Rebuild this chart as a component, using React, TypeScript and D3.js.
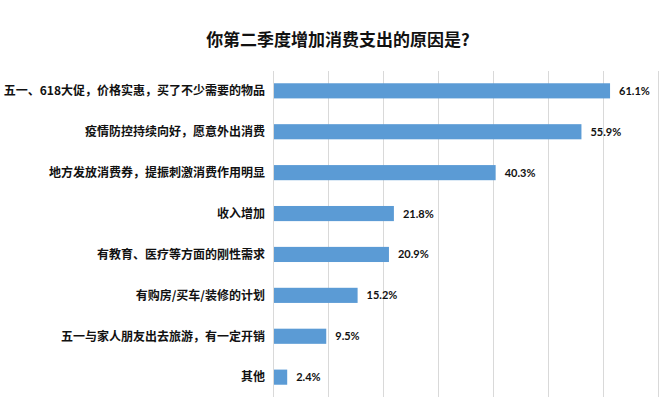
import React from "react";
import { select, scaleLinear, scaleBand, range } from "d3";

const categories = [
  "五一、618大促，价格实惠，买了不少需要的物品",
  "疫情防控持续向好，愿意外出消费",
  "地方发放消费券，提振刺激消费作用明显",
  "收入增加",
  "有教育、医疗等方面的刚性需求",
  "有购房/买车/装修的计划",
  "五一与家人朋友出去旅游，有一定开销",
  "其他",
];
const values = [61.1, 55.9, 40.3, 21.8, 20.9, 15.2, 9.5, 2.4];
const gridTicks = range(0, 71, 10);

const cjk = '"Noto Sans CJK SC", "Noto Sans", sans-serif';

export default function App() {
  const svgRef = React.useRef<SVGSVGElement>(null);
  const width = 660;
  const height = 401;
  const margin = { top: 71, right: 2, bottom: 4, left: 273 };

  React.useEffect(() => {
    const svg = select(svgRef.current);
    svg.selectAll("*").remove();

    const x = scaleLinear()
      .domain([0, 70])
      .range([margin.left, width - margin.right]);

    const y = scaleBand<string>()
      .domain(categories)
      .range([margin.top, height - margin.bottom])
      .paddingInner(0.63)
      .paddingOuter(0.3);

    svg
      .append("rect")
      .attr("width", width)
      .attr("height", height)
      .attr("fill", "#fff");

    // title
    svg
      .append("text")
      .attr("x", 338)
      .attr("y", 46)
      .attr("text-anchor", "middle")
      .attr("font-family", cjk)
      .attr("font-weight", "bold")
      .attr("font-size", 17)
      .attr("fill", "#111")
      .text("你第二季度增加消费支出的原因是?");

    // vertical gridlines
    svg
      .append("g")
      .selectAll("line")
      .data(gridTicks)
      .join("line")
      .attr("x1", (d) => x(d) + 0.5)
      .attr("x2", (d) => x(d) + 0.5)
      .attr("y1", margin.top)
      .attr("y2", height - margin.bottom)
      .attr("stroke", "#d9d9d9")
      .attr("stroke-width", 1);

    const rows = categories.map((c, i) => ({ c, v: values[i] }));

    svg
      .append("g")
      .selectAll("rect")
      .data(rows)
      .join("rect")
      .attr("x", x(0) + 1)
      .attr("y", (d) => y(d.c)!)
      .attr("width", (d) => x(d.v) - x(0))
      .attr("height", y.bandwidth())
      .attr("fill", "#5b9bd5");

    // category labels
    svg
      .append("g")
      .selectAll("text")
      .data(rows)
      .join("text")
      .attr("x", 265)
      .attr("y", (d) => y(d.c)! + y.bandwidth() / 2)
      .attr("dy", "0.36em")
      .attr("text-anchor", "end")
      .attr("font-family", cjk)
      .attr("font-weight", "bold")
      .attr("font-size", 12)
      .attr("fill", "#111")
      .text((d) => d.c);

    // value labels
    svg
      .append("g")
      .selectAll("text")
      .data(rows)
      .join("text")
      .attr("x", (d) => x(d.v) + 10)
      .attr("y", (d) => y(d.c)! + y.bandwidth() / 2)
      .attr("dy", "0.36em")
      .attr("font-family", "Lato, sans-serif")
      .attr("font-weight", "bold")
      .attr("font-size", 11)
      .attr("fill", "#111")
      .text((d) => `${d.v}%`);
  }, []);

  return (
    <svg
      ref={svgRef}
      width={width}
      height={height}
      style={{ position: "absolute", left: 0, top: 0 }}
    />
  );
}
